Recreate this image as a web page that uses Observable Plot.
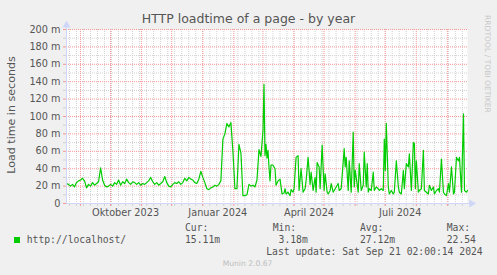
<!DOCTYPE html>
<html><head><meta charset="utf-8">
<script src="https://cdn.jsdelivr.net/npm/d3@7"></script>
<script src="https://cdn.jsdelivr.net/npm/@observablehq/plot@0.6"></script>
<style>
html,body{margin:0;padding:0;background:#F0F0F0;}
#wrap{position:relative;width:497px;height:275px;overflow:hidden;background:#F0F0F0;font-family:"DejaVu Sans",sans-serif;color:#555;}
#wrap svg{position:absolute;left:0;top:0;}
.t{position:absolute;white-space:pre;line-height:1;}
.mono{font-family:"DejaVu Sans Mono",monospace;font-size:9.72px;color:#555;}
</style></head><body><div id="wrap"></div>
<script>
// Time range of the graph (400 days ending at last update)
const startDate = new Date(Date.UTC(2023, 7, 18, 2, 0, 14));
const endDate = new Date(Date.UTC(2024, 8, 21, 2, 0, 14));

// Days since start date, and load time (milliseconds, "m")
const dayIndex = [0,2,4,6,8,10,12,14,16,18,20,22,24,26,28,30,32,34,36,38,40,42,44,46,48,50,52,54,56,58,60,62,64,66,68,70,72,74,76,78,80,82,84,86,88,90,92,94,96,98,100,102,104,106,108,110,112,114,116,118,120,122,124,126,128,130,132,134,136,138,140,142,144,146,148,150,152,154,156,158,160,162,164,166,168,170,172,174,176,178,180,182,184,186,188,190,192,194,196,197,198,199,200,201,202,203,204,206,208,209,211,213,215,217,218,219,221,223,224,226,227,229,231,232,234,236,238,239,241,243,244,246,248,249,250,252,253,254,255,257,258,260,261,263,264,266,268,271,272,274,277,278,279,281,282,284,286,287,288,291,292,294,296,297,299,300,301,302,304,306,307,309,311,312,314,316,317,318,319,321,322,324,326,327,329,331,332,334,336,337,339,341,342,344,346,347,348,349,351,352,354,356,357,359,361,362,364,366,367,369,371,372,374,376,377,379,381,382,384,386,387,389,391,392,394,396,397,399,400];
const loadMs = [23,22,20,22,19,24,26,27,29,26,18,22,20,24,21,23,25,41,27,21,19,20,22,20,24,22,27,21,25,23,28,24,22,25,24,22,24,21,23,22,24,26,30,25,22,24,21,23,25,31,24,20,19,22,24,23,25,22,24,29,26,30,28,27,24,23,28,37,30,24,17,16,18,19,21,20,22,26,74,80,92,88,93,60,17,17,68,58,9,9,10,22,20,21,19,27,62,54,84,137,55,68,52,61,42,26,44,44,40,21,26,28,11,12,17,11,13,9,16,13,17,53,55,15,40,13,17,26,53,22,36,15,30,13,47,42,17,42,67,15,34,13,11,15,23,13,17,23,15,17,63,42,53,15,49,13,82,19,38,13,46,15,21,59,19,46,13,17,15,36,15,19,17,15,17,15,74,38,92,19,11,15,11,13,49,19,13,11,38,17,46,42,57,15,70,69,17,49,13,15,17,61,15,13,11,21,15,19,11,15,17,13,51,13,11,9,23,13,42,11,13,53,49,53,13,103,15,13,15];

const yMajorTicks = [0,20,40,60,80,100,120,140,160,180,200];
const yMinorTicks = [10,30,50,70,90,110,130,150,170,190];
const xLabelDates = ["2023-10-16","2024-01-16","2024-04-16","2024-07-16"];
const xLabelTexts = ["Oktober 2023","Januar 2024","April 2024","Juli 2024"];

const titleText = "HTTP loadtime of a page - by year";
const yTitle = "Load time in seconds";
const seriesName = "http://localhost/";
const legendHeaders = ["Cur:","Min:","Avg:","Max:"];
const legendValues = ["15.11m"," 3.18m","27.12m","22.54"];
const lastUpdate = "Last update: Sat Sep 21 02:00:14 2024";
const footer = "Munin 2.0.67";
const watermark = "RRDTOOL / TOBI OETIKER";

const data = dayIndex.map((d, i) => ({date: d3.utcDay.offset(startDate, d), v: loadMs[i]}));
const mondays = d3.utcMonday.range(startDate, endDate);
const months = d3.utcMonth.range(startDate, endDate);
const labelDates = xLabelDates.map(s => new Date(s + "T00:00:00Z"));

const GRID = "#D1D1D1", MGRID = "#F99595", AXIS = "#CFD6F8";

const chart = Plot.plot({
  width: 497, height: 275,
  marginLeft: 66, marginRight: 30, marginTop: 29, marginBottom: 72,
  style: {background: "transparent", fontFamily: "'DejaVu Sans', sans-serif", fontSize: "9.72px", color: "#555", overflow: "visible"},
  x: {type: "utc", domain: [startDate, endDate], label: null},
  y: {domain: [0, 200], label: null},
  marks: [
    Plot.frame({fill: "#FFFFFF", stroke: null}),
    Plot.ruleX(mondays, {stroke: GRID, strokeDasharray: "1,1"}),
    Plot.ruleY(yMinorTicks, {stroke: GRID, strokeDasharray: "1,1"}),
    Plot.ruleX(months, {stroke: MGRID, strokeDasharray: "1,1"}),
    Plot.ruleY(yMajorTicks.filter(v => v > 0), {stroke: MGRID, strokeDasharray: "1,1"}),
    Plot.line(data, {x: "date", y: "v", stroke: "#00CC00", strokeWidth: 1.2}),
    Plot.axisY({ticks: yMinorTicks, tickSize: 3, stroke: GRID, tickFormat: () => "", label: null}),
    Plot.axisY({ticks: yMajorTicks, tickSize: 3, tickPadding: 3, stroke: MGRID, fill: "#555",
      tickFormat: d => d === 0 ? "0" : d + " m", label: null, fontSize: 9.72}),
    Plot.axisX({ticks: mondays, tickSize: 3, stroke: GRID, tickFormat: () => "", label: null}),
    Plot.axisX({ticks: months, tickSize: 3, stroke: MGRID, tickFormat: () => "", label: null}),
    Plot.axisX({ticks: labelDates, tickSize: 0, tickPadding: 6, fill: "#555", fontSize: 9.72, label: null,
      tickFormat: d => xLabelTexts[labelDates.findIndex(x => +x === +d)]}),
    Plot.ruleX([startDate], {y1: 0, y2: 206, stroke: AXIS}),
    Plot.ruleY([0], {x1: startDate, x2: d3.utcDay.offset(endDate, 4), stroke: AXIS}),
    Plot.dot([startDate], {x: d => d, y: () => 205, symbol: "triangle", r: 3, fill: AXIS, stroke: null}),
    Plot.dot([d3.utcDay.offset(endDate, 4)], {x: d => d, y: () => 0, symbol: "triangle", r: 3, rotate: 90, fill: AXIS, stroke: null})
  ]
});

const wrap = document.getElementById("wrap");
wrap.appendChild(chart);

function addText(txt, css, cls) {
  const el = document.createElement("div");
  el.className = "t" + (cls ? " " + cls : "");
  el.textContent = txt;
  Object.assign(el.style, css);
  wrap.appendChild(el);
  return el;
}

addText(titleText, {left: "0px", width: "497px", textAlign: "center", top: "13.3px", fontSize: "12.5px", color: "#555"});
addText(yTitle, {left: "11.7px", top: "115px", fontSize: "11.1px", color: "#555", transform: "translate(-50%,-50%) rotate(-90deg)"});
addText(watermark, {left: "483.8px", top: "15px", fontSize: "7.6px", color: "#C8C8C8", writingMode: "vertical-rl"});

const cols = [185, 272.7, 360, 446.7];
legendHeaders.forEach((h, i) => addText(h, {left: cols[i] + "px", top: "222.6px"}, "mono"));
const sw = document.createElement("div");
Object.assign(sw.style, {position: "absolute", left: "14px", top: "237px", width: "6px", height: "6px", background: "#00CC00"});
wrap.appendChild(sw);
addText(seriesName, {left: "26.7px", top: "235.3px"}, "mono");
legendValues.forEach((v, i) => addText(v, {left: cols[i] + "px", top: "235.3px"}, "mono"));
addText(lastUpdate, {right: "14.3px", top: "247px"}, "mono");
addText(footer, {left: "0px", width: "495px", textAlign: "center", top: "260px", fontSize: "7.6px", color: "#BDBDBD"});
</script>
</body></html>
